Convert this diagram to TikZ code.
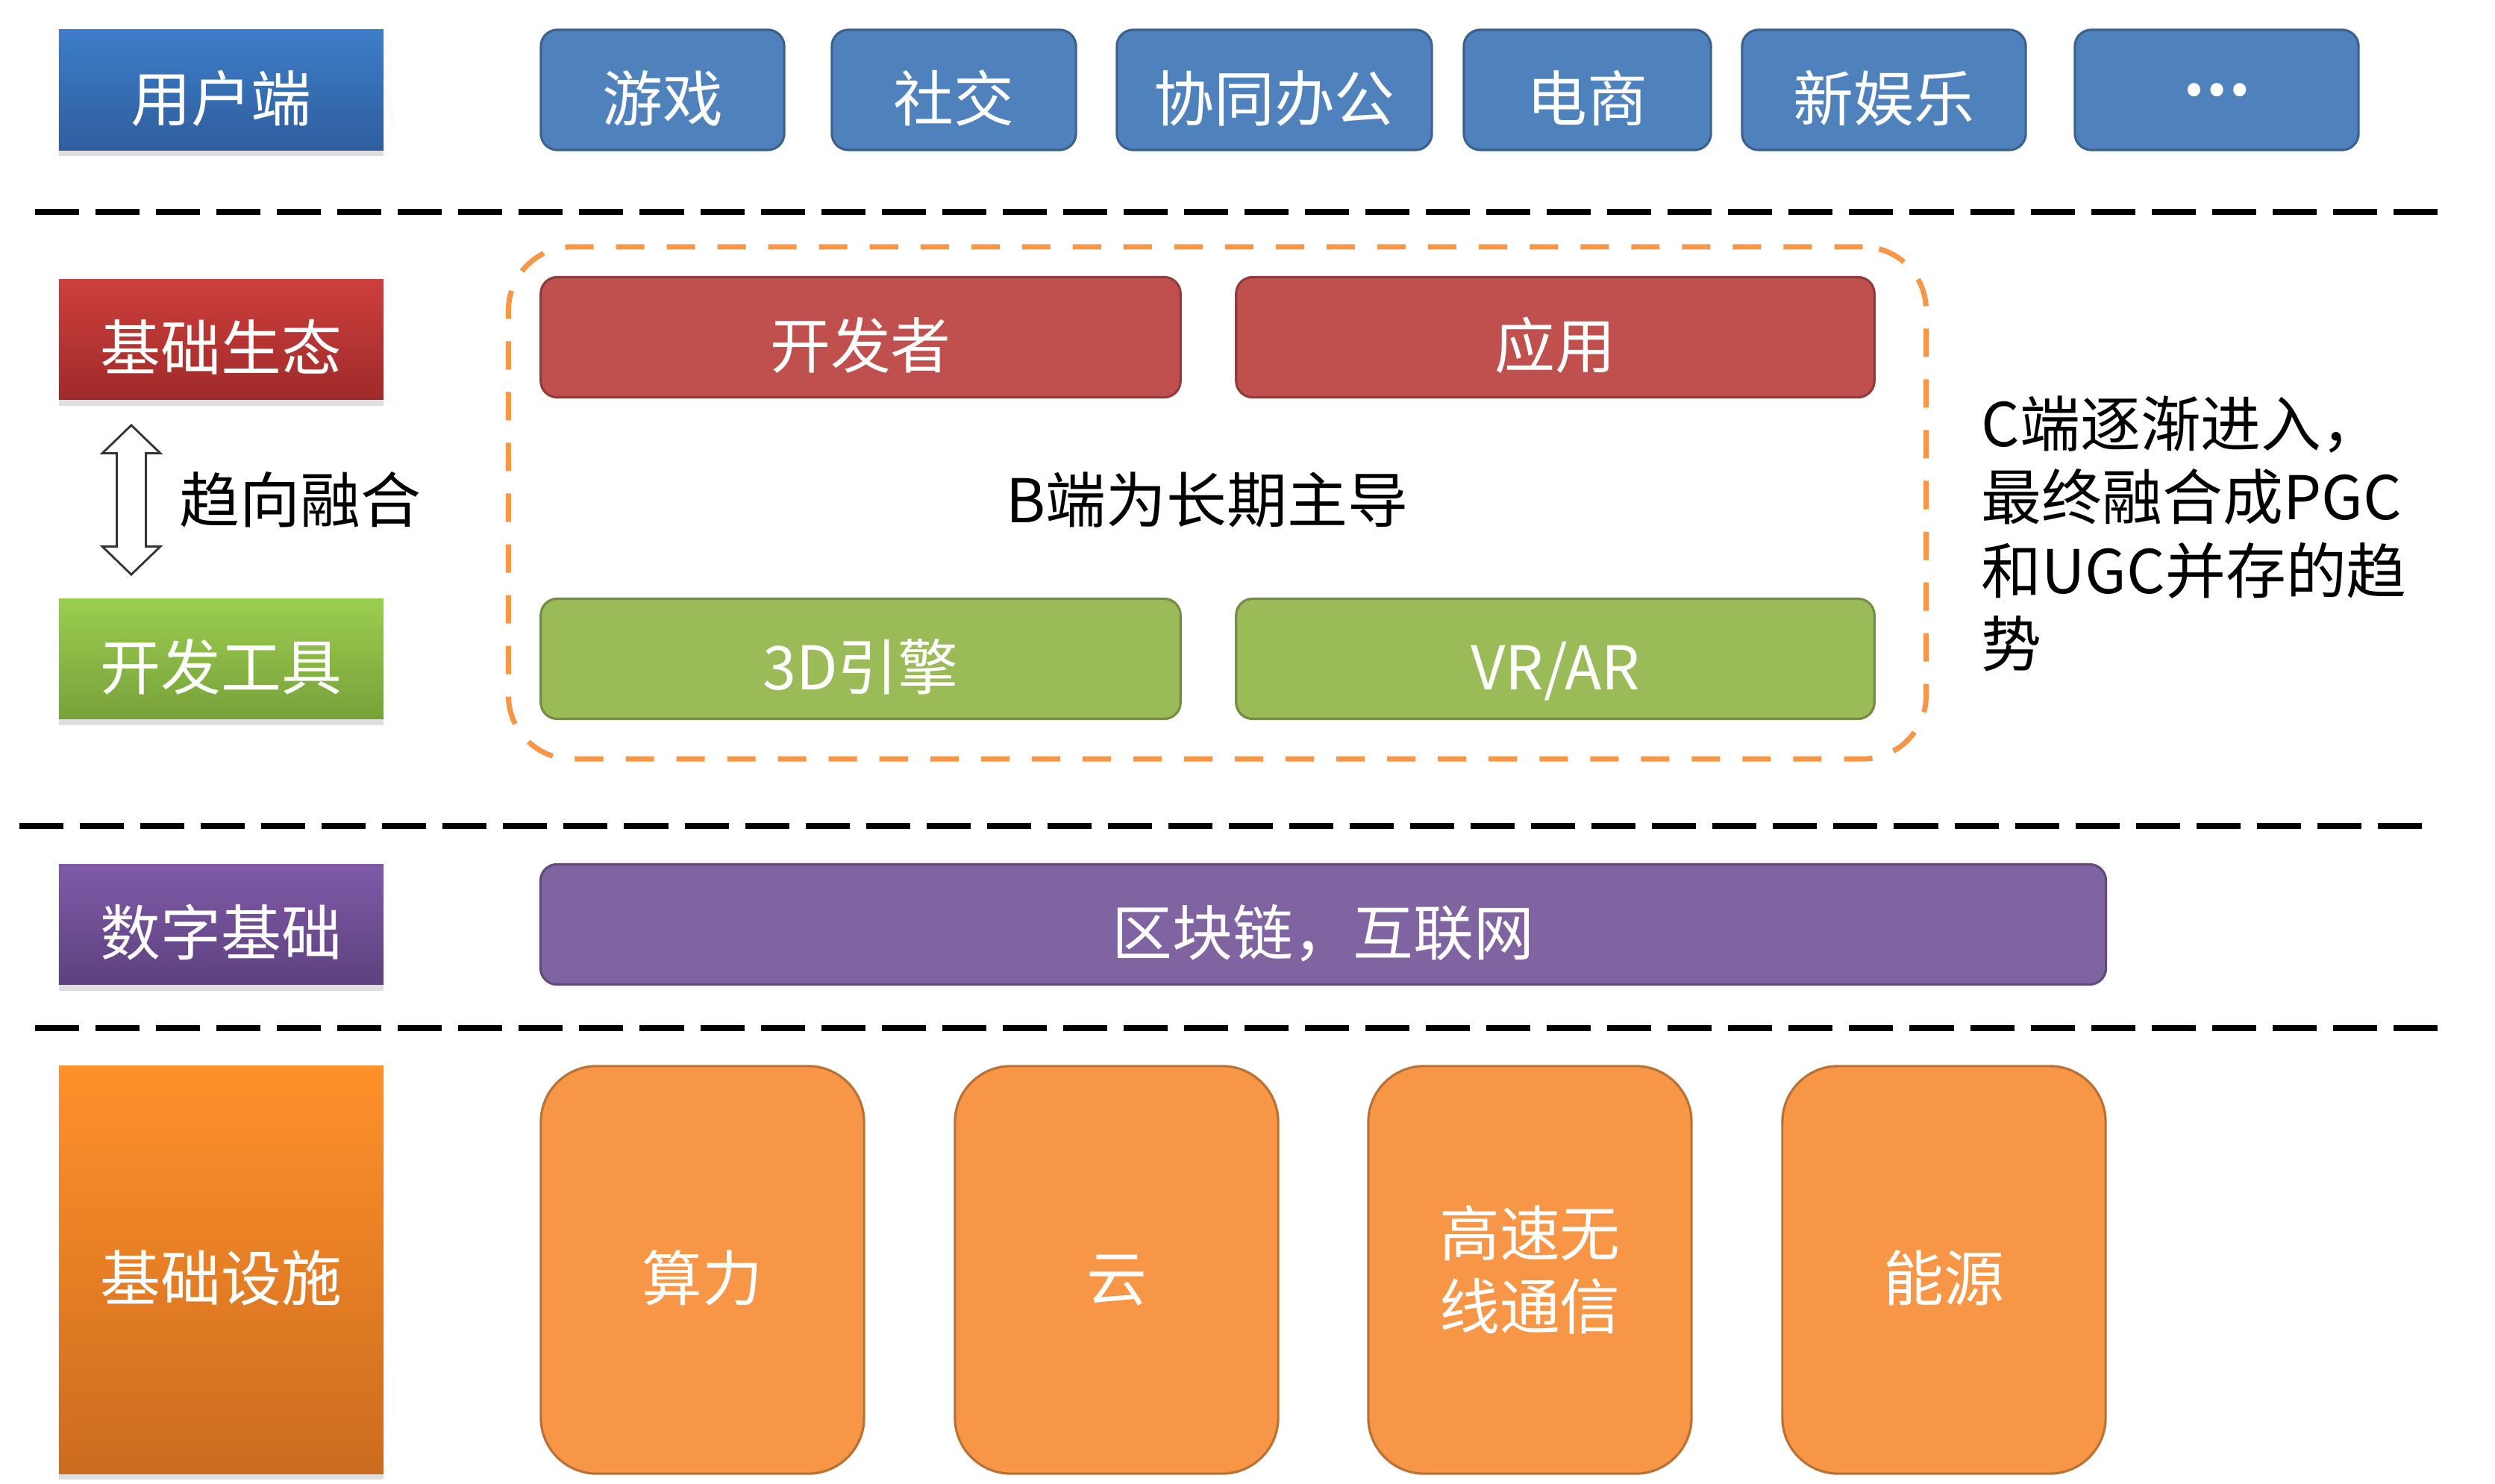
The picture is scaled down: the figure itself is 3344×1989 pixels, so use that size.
\documentclass[tikz,border=0pt]{standalone}
\usepackage{fontspec}
\setmainfont{Noto Sans CJK SC}
\usetikzlibrary{shapes.arrows,shadows}
\definecolor{blueTop}{HTML}{3D7DCA}
\definecolor{blueBot}{HTML}{2F5E9C}
\definecolor{redTop}{HTML}{CD3F3C}
\definecolor{redBot}{HTML}{9F2B29}
\definecolor{greenTop}{HTML}{9BCD50}
\definecolor{greenBot}{HTML}{77A23A}
\definecolor{purpleTop}{HTML}{805AA8}
\definecolor{purpleBot}{HTML}{5E417F}
\definecolor{orangeTop}{HTML}{FF912B}
\definecolor{orangeBot}{HTML}{CC6C1F}
\definecolor{userblue}{HTML}{4F81BD}
\definecolor{ecored}{HTML}{C0504D}
\definecolor{toolgreen}{HTML}{9BBB59}
\definecolor{digipurple}{HTML}{8064A2}
\definecolor{infraorange}{HTML}{F79646}
\tikzset{
  tier/.style n args={2}{top color=#1, bottom color=#2, text=white, inner sep=0pt,
    minimum width=4.35cm, minimum height=1.61cm, text height=0.93cm, text depth=0.1cm,
    drop shadow={shadow xshift=0cm, shadow yshift=-0.08cm, opacity=0.25}},
  tile/.style={draw=#1!75!black, fill=#1, text=white, line width=0.9pt, inner sep=0pt,
    rounded corners=0.22cm, minimum height=1.61cm, text height=0.93cm, text depth=0.1cm},
  divider/.style={line width=0.08cm, dash pattern=on 0.59cm off 0.22cm},
  fence/.style={draw=infraorange, line width=0.07cm, dash pattern=on 0.38cm off 0.3cm,
    rounded corners=0.85cm, inner sep=0pt}
}
\begin{document}
\begin{tikzpicture}[x=0.01cm, y=-0.01cm, font=\fontsize{23}{28}\selectfont]
  \useasboundingbox (0,0) rectangle (3344,1989);

  \node[tier={blueTop}{blueBot}] (user) at (296.5,120.5) {用户端};
  \node[tile=userblue, minimum width=3.26cm] (game) at (888,120.5) {游戏};
  \node[tile=userblue, minimum width=3.27cm] (social) at (1278.5,120.5) {社交};
  \node[tile=userblue, minimum width=4.22cm] (office) at (1708,120.5) {协同办公};
  \node[tile=userblue, minimum width=3.31cm] (shop) at (2127.5,120.5) {电商};
  \node[tile=userblue, minimum width=3.80cm] (fun) at (2525,120.5) {新娱乐};
  \node[tile=userblue, minimum width=3.80cm, text height={}, text depth={}] (more) at (2971,120.5) {\textbf{…}};

  \draw[divider] (47,284) -- (3267,284);

  \node[fence, minimum width=18.99cm, minimum height=6.86cm] (group) at (1631.5,674) {};
  \node[tier={redTop}{redBot}] (eco) at (296.5,455) {基础生态};
  \node[tier={greenTop}{greenBot}] (tool) at (296.5,883) {开发工具};
  \node[draw=black!80, line width=0.8pt, fill=white, shape=double arrow, rotate=90,
    minimum height=2cm, inner xsep=0pt, inner ysep=0.18cm,
    double arrow head extend=0.195cm, double arrow tip angle=92] (merge) at (176,670) {};
  \node[right] (mergetext) at (228,670) {趋向融合};
  \node[tile=ecored, minimum width=8.57cm] (dev) at (1153.5,452) {开发者};
  \node[tile=ecored, minimum width=8.55cm] (app) at (2084.5,452) {应用};
  \node (lead) at (1618,670) {B端为长期主导};
  \node[tile=toolgreen, minimum width=8.57cm] (engine) at (1153.5,883) {3D引擎};
  \node[tile=toolgreen, minimum width=8.55cm] (vrar) at (2084.5,883) {VR/AR};
  \node[anchor=north west, align=left, inner sep=0pt] (trend) at (2655,530)
    {C端逐渐进入，\\最终融合成PGC\\和UGC并存的趋\\势};

  \draw[divider] (26,1107) -- (3246,1107);

  \node[tier={purpleTop}{purpleBot}] (digital) at (296.5,1239) {数字基础};
  \node[tile=digipurple, minimum width=20.97cm] (chain) at (1773.5,1239) {区块链，互联网};

  \draw[divider] (47,1378) -- (3267,1378);

  \node[tier={orangeTop}{orangeBot}, minimum height=5.46cm] (infra) at (296.5,1702) {基础设施};
  \node[tile=infraorange, rounded corners=0.75cm, minimum width=4.33cm, minimum height=5.46cm] (power) at (941.5,1702) {算力};
  \node[tile=infraorange, rounded corners=0.75cm, minimum width=4.33cm, minimum height=5.46cm] (cloud) at (1496.5,1702) {云};
  \node[tile=infraorange, rounded corners=0.75cm, minimum width=4.33cm, minimum height=5.46cm, align=center, text height={}, text depth={}] (wireless) at (2050.5,1702) {高速无\\线通信};
  \node[tile=infraorange, rounded corners=0.75cm, minimum width=4.33cm, minimum height=5.46cm] (energy) at (2605.5,1702) {能源};
\end{tikzpicture}
\end{document}
